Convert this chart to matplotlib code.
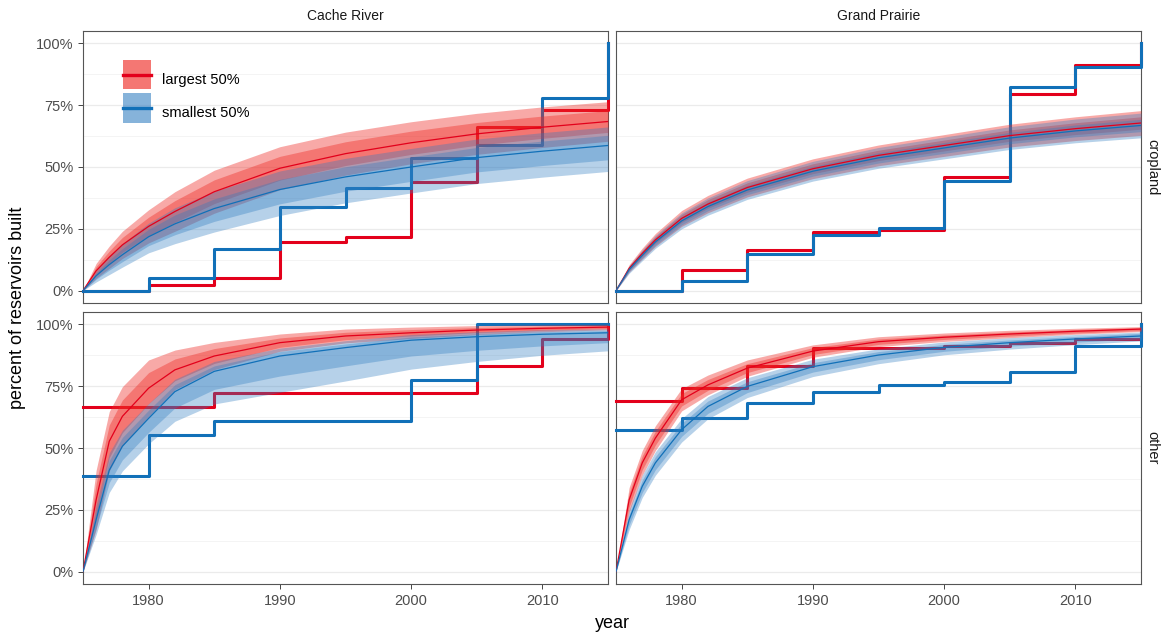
import numpy as np
import matplotlib.pyplot as plt
from matplotlib.patches import Patch, Rectangle
from matplotlib.lines import Line2D
from matplotlib.legend_handler import HandlerPatch
from matplotlib.ticker import FuncFormatter, MultipleLocator

plt.rcParams["font.family"] = ["Liberation Sans", "DejaVu Sans"]

# ---------------- data (percent) ----------------
# step data: observed share built, every 5 years
step_years = [1975, 1980, 1985, 1990, 1995, 2000, 2005, 2010, 2015]
cr_crop_lg_obs = [0, 2.4, 5, 19.7, 21.8, 44, 66, 73, 100]
cr_crop_sm_obs = [0, 5, 17, 33.9, 41.6, 53.6, 58.7, 78, 100]
gp_crop_lg_obs = [0, 8.4, 16.5, 23.9, 24.5, 45.8, 79.5, 91.3, 100]
gp_crop_sm_obs = [0, 4, 15, 22.3, 25.2, 44.5, 82.2, 90.5, 100]
cr_oth_lg_obs = [66.7, 66.7, 72.1, 72.1, 72.1, 72.1, 83.1, 94.1, 100]
cr_oth_sm_obs = [38.7, 55.2, 60.8, 60.8, 60.8, 77.4, 100, 100, 100]
gp_oth_lg_obs = [69.2, 74.4, 83.0, 90.3, 90.5, 91.3, 92.6, 94.1, 100]
gp_oth_sm_obs = [57.1, 62.2, 68.4, 72.8, 75.5, 76.6, 80.9, 91.1, 100]

# model curves: median, outer band, inner band
yr = [1975, 1976, 1977, 1978, 1980, 1982, 1985, 1990, 1995, 2000, 2005, 2010, 2015]

cr_crop_lg_mid = [0, 8, 13.5, 18.5, 26, 32, 40, 49.5, 55.4, 59.8, 63.4, 66.1, 68.4]
cr_crop_lg_lo = [0, 5, 9, 13, 19.3, 24, 31.3, 40.8, 46.7, 51.3, 55.1, 57.9, 60.4]
cr_crop_lg_hi = [0, 11, 18, 24, 32.7, 40, 48.7, 58.2, 64.1, 68.3, 71.7, 74.3, 76.4]
cr_crop_lg_lo2 = [0, 6.3, 11, 15.5, 22.3, 27.6, 35.2, 44.7, 50.6, 55.1, 58.8, 61.6, 64]
cr_crop_lg_hi2 = [0, 9.7, 16, 21.5, 29.7, 36.4, 44.8, 54.3, 60.2, 64.5, 68, 70.6, 72.8]

cr_crop_sm_mid = [0, 6, 10.5, 14.5, 21.8, 27, 33.2, 40.9, 46, 50, 53.8, 56.4, 58.7]
cr_crop_sm_lo = [0, 3.5, 6.5, 9.5, 15.3, 19, 23.7, 30.4, 35.5, 39.5, 43.3, 45.9, 48.2]
cr_crop_sm_hi = [0, 8, 14, 19, 27.3, 33.5, 40.2, 48.4, 53.5, 57.5, 61.3, 63.9, 66.2]
cr_crop_sm_lo2 = [0, 4.6, 8.3, 11.7, 18.2, 22.6, 28, 35.1, 40.2, 44.2, 48, 50.6, 52.9]
cr_crop_sm_hi2 = [0, 7.1, 12.4, 17, 24.8, 30.6, 37.1, 45, 50.1, 54.1, 57.9, 60.5, 62.8]

gp_crop_lg_mid = [0, 9, 15, 20.5, 29.2, 35, 41.7, 49.3, 54.7, 58.7, 62.7, 65.5, 67.8]
gp_crop_lg_lo = [0, 7.5, 12.8, 17.9, 26, 31.5, 37.9, 45.3, 50.5, 54.3, 58.1, 60.7, 62.8]
gp_crop_lg_hi = [0, 10.5, 17.2, 23.1, 32.4, 38.5, 45.5, 53.3, 58.9, 63.1, 67.3, 70.3, 72.8]
gp_crop_lg_lo2 = [0, 8.3, 13.9, 19.2, 27.6, 33.3, 39.8, 47.3, 52.6, 56.5, 60.4, 63.1, 65.3]
gp_crop_lg_hi2 = [0, 9.8, 16.1, 21.8, 30.8, 36.8, 43.6, 51.3, 56.8, 60.9, 65, 67.9, 70.3]

gp_crop_sm_mid = [0, 8.5, 14.3, 19.7, 28.2, 34, 40.7, 48.3, 53.7, 57.7, 61.7, 64.6, 66.8]
gp_crop_sm_lo = [0, 7, 12.1, 17.1, 25, 30.5, 36.9, 44.3, 49.5, 53.3, 57.1, 59.8, 61.8]
gp_crop_sm_hi = [0, 10, 16.5, 22.3, 31.4, 37.5, 44.5, 52.3, 57.9, 62.1, 66.3, 69.4, 71.8]
gp_crop_sm_lo2 = [0, 7.8, 13.2, 18.4, 26.6, 32.3, 38.8, 46.3, 51.6, 55.5, 59.4, 62.2, 64.3]
gp_crop_sm_hi2 = [0, 9.3, 15.4, 21, 29.8, 35.8, 42.6, 50.3, 55.8, 59.9, 64, 67, 69.3]

cr_oth_lg_mid = [0, 29, 52.7, 62.8, 74.2, 81.6, 87.2, 92.6, 95.3, 96.6, 97.7, 98.4, 98.9]
cr_oth_lg_lo = [0, 17, 40.7, 50.8, 62.8, 73.6, 81.7, 89.1, 92.5, 94.3, 95.9, 97, 97.8]
cr_oth_lg_hi = [0, 41, 64.7, 74.8, 85.6, 89.6, 92.7, 96.1, 98.1, 98.9, 99.5, 99.8, 100]
cr_oth_lg_lo2 = [0, 22.4, 46.1, 56.2, 67.9, 77.2, 84.2, 90.7, 93.8, 95.3, 96.7, 97.6, 98.3]
cr_oth_lg_hi2 = [0, 35.6, 59.3, 69.4, 80.5, 86, 90.2, 94.5, 96.8, 97.9, 98.7, 99.2, 99.5]

cr_oth_sm_mid = [0, 21, 41, 50.7, 62, 72.8, 81, 87.2, 90.6, 93.6, 95, 96, 96.6]
cr_oth_sm_lo = [0, 15, 32, 40.7, 51.7, 60.8, 67.8, 72.5, 77.1, 81.9, 85, 87.5, 89.3]
cr_oth_sm_hi = [0, 27, 48, 57.2, 68, 77.8, 85, 90.4, 93.4, 95.9, 97, 97.8, 98.2]
cr_oth_sm_lo2 = [0, 17.7, 36, 45.2, 56.3, 66.2, 73.7, 79.1, 83.2, 87.2, 89.5, 91.3, 92.6]
cr_oth_sm_hi2 = [0, 24.3, 44.9, 54.3, 65.3, 75.6, 83.2, 89, 92.1, 94.9, 96.1, 97, 97.5]

gp_oth_lg_mid = [0, 29, 44, 54, 69.5, 75.5, 82.3, 89.2, 93, 94.8, 96.1, 97.2, 98.1]
gp_oth_lg_lo = [0, 24, 39, 49, 65, 71.5, 79, 86.7, 91, 93.1, 94.6, 96, 97.1]
gp_oth_lg_hi = [0, 34, 49, 59, 74, 79.5, 85.6, 91.7, 95, 96.5, 97.6, 98.4, 99.1]
gp_oth_lg_lo2 = [0, 26.2, 41.2, 51.2, 67, 73.3, 80.5, 87.8, 91.9, 93.9, 95.3, 96.5, 97.5]
gp_oth_lg_hi2 = [0, 31.8, 46.8, 56.8, 72, 77.7, 84.1, 90.6, 94.1, 95.7, 96.9, 97.9, 98.7]

gp_oth_sm_mid = [0, 21, 34.5, 44, 57.4, 66.8, 74.9, 82.9, 87.6, 90.7, 92.6, 94.1, 95.3]
gp_oth_sm_lo = [0, 17, 30, 39, 52.4, 61.8, 70.4, 78.9, 84.1, 87.7, 90, 91.8, 93.3]
gp_oth_sm_hi = [0, 25, 39, 48.5, 61.9, 70.8, 78.4, 85.9, 90.1, 92.9, 94.6, 95.9, 96.9]
gp_oth_sm_lo2 = [0, 18.8, 32, 41.2, 54.7, 64, 72.4, 80.7, 85.7, 89.1, 91.2, 92.8, 94.2]
gp_oth_sm_hi2 = [0, 23.2, 37, 46.5, 59.9, 69, 76.8, 84.5, 89, 91.9, 93.7, 95.1, 96.4]

regions = ["Cache River", "Grand Prairie"]
landuse = ["cropland", "other"]
labels = ["largest 50%", "smallest 50%"]

# ---------------- style ----------------
RED = "#E3001B"
BLUE = "#1170B8"
RED_FILL = "#EE2A24"
BLUE_FILL = "#2F7CC0"

W, H = 1163, 637
fig = plt.figure(figsize=(W / 100, H / 100), dpi=100)

col_x = [83, 616]
panel_w = 525
row_y = [31, 312]
panel_h = 272


def key_rect(legend, orig_handle, xdescent, ydescent, width, height, fontsize):
    # centre the key box on the line drawn through it
    return Rectangle((-xdescent, -ydescent / 2), width, height)


panels = {
    (0, 0): ((cr_crop_lg_obs, cr_crop_lg_mid, cr_crop_lg_lo, cr_crop_lg_hi, cr_crop_lg_lo2, cr_crop_lg_hi2),
             (cr_crop_sm_obs, cr_crop_sm_mid, cr_crop_sm_lo, cr_crop_sm_hi, cr_crop_sm_lo2, cr_crop_sm_hi2)),
    (0, 1): ((gp_crop_lg_obs, gp_crop_lg_mid, gp_crop_lg_lo, gp_crop_lg_hi, gp_crop_lg_lo2, gp_crop_lg_hi2),
             (gp_crop_sm_obs, gp_crop_sm_mid, gp_crop_sm_lo, gp_crop_sm_hi, gp_crop_sm_lo2, gp_crop_sm_hi2)),
    (1, 0): ((cr_oth_lg_obs, cr_oth_lg_mid, cr_oth_lg_lo, cr_oth_lg_hi, cr_oth_lg_lo2, cr_oth_lg_hi2),
             (cr_oth_sm_obs, cr_oth_sm_mid, cr_oth_sm_lo, cr_oth_sm_hi, cr_oth_sm_lo2, cr_oth_sm_hi2)),
    (1, 1): ((gp_oth_lg_obs, gp_oth_lg_mid, gp_oth_lg_lo, gp_oth_lg_hi, gp_oth_lg_lo2, gp_oth_lg_hi2),
             (gp_oth_sm_obs, gp_oth_sm_mid, gp_oth_sm_lo, gp_oth_sm_hi, gp_oth_sm_lo2, gp_oth_sm_hi2)),
}

for (r, c), series in panels.items():
    ax = fig.add_axes([col_x[c] / W, 1 - (row_y[r] + panel_h) / H, panel_w / W, panel_h / H])
    ax.set_xlim(1975, 2015)
    ax.set_ylim(-5, 105)

    # grid
    ax.yaxis.set_major_locator(MultipleLocator(25))
    ax.yaxis.set_minor_locator(MultipleLocator(12.5))
    ax.grid(True, axis="y", which="major", color="#EBEBEB", lw=0.9)
    ax.grid(True, axis="y", which="minor", color="#F3F3F3", lw=0.6)
    ax.set_axisbelow(True)
    ax.xaxis.set_major_locator(MultipleLocator(10))
    ax.yaxis.set_major_formatter(FuncFormatter(lambda v, p: f"{v:.0f}%"))

    # observed steps (not clipped, so the last jump at 2015 shows on the border)
    for (obs, *_), col in zip(series, [RED, BLUE]):
        ax.step(step_years, obs, where="post", color=col, lw=2.2, zorder=2, clip_on=False)

    # model ribbons
    for (_, mid, lo, hi, lo2, hi2), fc, a in zip(series, [RED_FILL, BLUE_FILL], [0.4, 0.35]):
        ax.fill_between(yr, lo, hi, color=fc, alpha=a, lw=0, zorder=3)
        ax.fill_between(yr, lo2, hi2, color=fc, alpha=a, lw=0, zorder=3)

    for (_, mid, *_), col in zip(series, [RED, BLUE]):
        ax.plot(yr, mid, color=col, lw=0.9, zorder=4)

    for s in ax.spines.values():
        s.set_color("#555555")
        s.set_linewidth(0.8)
        s.set_zorder(1)
    ax.tick_params(which="major", length=3.5, width=0.7, color="#444444",
                   labelsize=10.5, labelcolor="#4D4D4D")
    ax.tick_params(which="minor", length=0)
    if c == 1:
        ax.tick_params(axis="y", left=False, labelleft=False)
    if r == 0:
        ax.tick_params(axis="x", bottom=False, labelbottom=False)
        fig.text((col_x[c] + panel_w / 2) / W, 1 - 16 / H, regions[c],
                 ha="center", va="center", fontsize=10, color="#1A1A1A")
    if c == 1:
        fig.text(1152 / W, 1 - (row_y[r] + panel_h / 2) / H, landuse[r],
                 ha="center", va="center", rotation=-90, fontsize=10.5, color="#1A1A1A")

    if (r, c) == (0, 0):
        handles = [
            (Patch(facecolor=RED_FILL, alpha=0.64, lw=0), Line2D([], [], color=RED, lw=2.4)),
            (Patch(facecolor=BLUE_FILL, alpha=0.58, lw=0), Line2D([], [], color=BLUE, lw=2.4)),
        ]
        ax.legend(handles, labels, loc="upper left", bbox_to_anchor=(40 / panel_w, 1 - 34 / panel_h),
                  frameon=False, fontsize=10.5, handlelength=1.95, handleheight=2.75,
                  labelspacing=0.25, handletextpad=0.75, borderpad=0, borderaxespad=0,
                  handler_map={Patch: HandlerPatch(patch_func=key_rect)})

fig.text(18 / W, 1 - (row_y[0] + row_y[1] + panel_h) / 2 / H, "percent of reservoirs built",
         rotation=90, ha="center", va="center", fontsize=13)
fig.text((col_x[0] + col_x[1] + panel_w) / 2 / W, 1 - 624 / H, "year",
         ha="center", va="center", fontsize=13)

fig.savefig("out.png", dpi=100)
